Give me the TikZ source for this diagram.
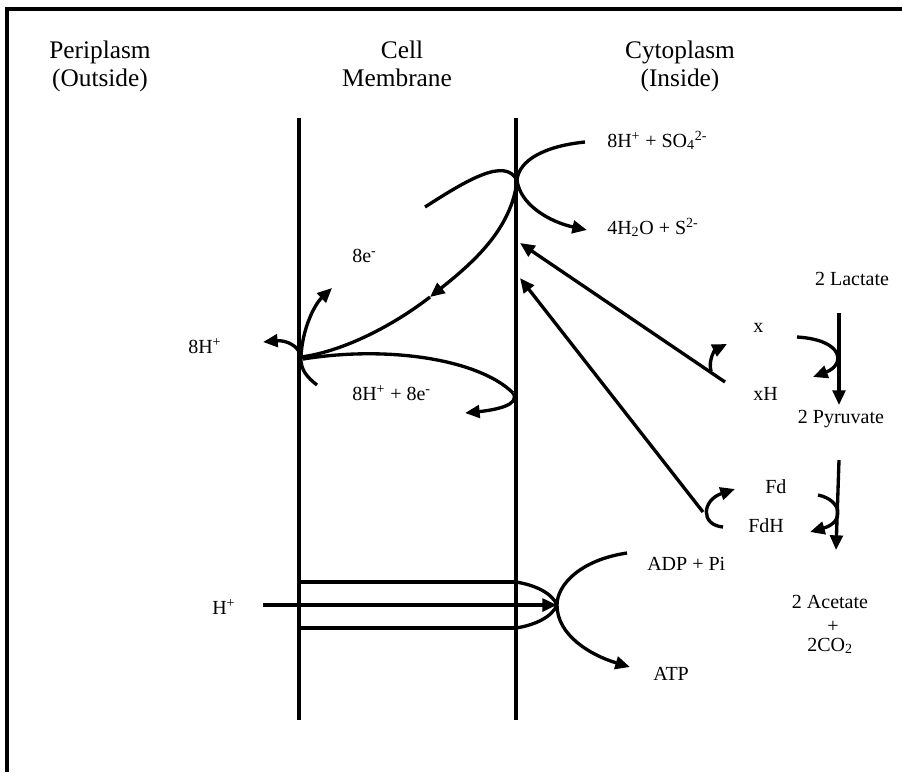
\documentclass[tikz,border=0pt]{standalone}
\usepackage{fontspec}
\setmainfont{Liberation Serif}
\usetikzlibrary{arrows.meta}
\begin{document}
\begin{tikzpicture}[x=0.75pt,y=-0.75pt,
  lbl/.style={inner sep=0pt,font=\fontsize{15}{18}\selectfont},
  hdr/.style={inner sep=0pt,font=\fontsize{19}{22}\selectfont,anchor=base},
  memb/.style={line width=3pt},
  crv/.style={line width=2.5pt},
  arr/.style={crv,-{Triangle[length=11pt,width=9.5pt]}},
  frame/.style={line width=3pt}]
\useasboundingbox (0,0) rectangle (902,772);
% frame
\draw[frame,line join=miter] (7,772) -- (7,8.5) -- (902,8.5);
% headings
\node[hdr] (peri1) at (100,58) {Periplasm};
\node[hdr] (peri2) at (100,86) {(Outside)};
\node[hdr] (cell1) at (402,58) {Cell};
\node[hdr] (cell2) at (397,86) {Membrane};
\node[hdr] (cyto1) at (680,58) {Cytoplasm};
\node[hdr] (cyto2) at (680,86) {(Inside)};
% membranes
\coordinate (mlt) at (299,118); \coordinate (mlb) at (299,720);
\coordinate (mrt) at (516,118); \coordinate (mrb) at (516,720);
\draw[memb] (mlt) -- (mlb);
\draw[memb] (mrt) -- (mrb);
% labels
\node[lbl,anchor=base west] (so4) at (607,147) {8H\textsuperscript{+} + SO\textsubscript{4}\textsuperscript{2-}};
\node[lbl,anchor=base west] (h2o) at (607,234) {4H\textsubscript{2}O + S\textsuperscript{2-}};
\node[lbl,anchor=base west] (e8) at (352,262) {8e\textsuperscript{-}};
\node[lbl,anchor=base west] (h8) at (188,353) {8H\textsuperscript{+}};
\node[lbl,anchor=base west] (h8e8) at (352,400) {8H\textsuperscript{+} + 8e\textsuperscript{-}};
\node[lbl,anchor=base] (lac) at (852,285) {2 Lactate};
\node[lbl,anchor=base west] (xx) at (753,332) {x};
\node[lbl,anchor=base west] (xh) at (753,400) {xH};
\node[lbl,anchor=base] (pyr) at (841,423) {2 Pyruvate};
\node[lbl,anchor=base west] (fd) at (765,493) {Fd};
\node[lbl,anchor=base west] (fdh) at (748,532) {FdH};
\node[lbl,anchor=base west] (adp) at (647,570) {ADP + Pi};
\node[lbl,anchor=base west] (hp) at (212,614) {H\textsuperscript{+}};
\node[lbl,anchor=base west] (atp) at (653,680) {ATP};
\node[lbl,anchor=base] (ace) at (830,608) {2 Acetate};
\node[lbl,anchor=base] (plus) at (833,632) {+};
\node[lbl,anchor=base] (co2) at (830,651) {2CO\textsubscript{2}};
% sulfate reduction junction on inner membrane
\coordinate (j1) at (517,180);
\coordinate (so4s) at (585,142);
\coordinate (h2oe) at (587,230);
\coordinate (la) at (425,207);
\coordinate (emid) at (430,297);
\coordinate (j2) at (301,357);
\draw[crv] (so4s) .. controls (545,146) and (519,160) .. (j1);
\draw[arr] (j1) .. controls (520,205) and (550,222) .. (h2oe);
\draw[crv] (la) .. controls (470,178) and (505,158) .. (j1);
\draw[arr] (j1) .. controls (512,230) and (470,265) .. (emid);
\draw[crv] (emid) .. controls (390,328) and (340,352) .. (j2);
% outer membrane junction
\coordinate (e8t) at (332,288);
\coordinate (h8t) at (263,342);
\coordinate (lowarm) at (317,385);
\coordinate (rturn) at (513,393);
\coordinate (h8e8t) at (465,413);
\draw[arr] (j2) .. controls (302,330) and (314,305) .. (e8t);
\draw[arr] (j2) .. controls (299,345) and (285,340) .. (h8t);
\draw[crv] (j2) .. controls (300,370) and (308,378) .. (lowarm);
\draw[crv] (303,359) .. controls (390,345) and (480,360) .. (rturn);
\draw[arr] (rturn) .. controls (521,405) and (495,410) .. (h8e8t);
% electron donors to membrane
\coordinate (xhs) at (725,382); \coordinate (xht) at (520,243);
\coordinate (fds) at (703,512); \coordinate (fdt) at (520,278);
\draw[arr] (xhs) -- (xht);
\draw[arr] (fds) -- (fdt);
\coordinate (xa1) at (711,371); \coordinate (xa2) at (727,344);
\draw[arr] (xa1) .. controls (708,360) and (715,350) .. (xa2);
\coordinate (fa1) at (723,527); \coordinate (fa2) at (735,489);
\draw[arr] (fa1) .. controls (700,525) and (702,500) .. (fa2);
% lactate oxidation
\coordinate (l1) at (839,313); \coordinate (l2) at (839,405);
\draw[arr] (l1) -- (l2);
\coordinate (xc1) at (797,337); \coordinate (xc2) at (813,377);
\draw[arr] (xc1) .. controls (845,340) and (845,365) .. (xc2);
\coordinate (p1) at (839,460); \coordinate (p2) at (836,550);
\draw[arr] (p1) -- (p2);
\coordinate (fc1) at (818,495); \coordinate (fc2) at (810,532);
\draw[arr] (fc1) .. controls (842,500) and (845,522) .. (fc2);
% ATP synthase
\coordinate (c1l) at (299,582); \coordinate (c1r) at (516,582);
\coordinate (c2l) at (299,628); \coordinate (c2r) at (516,628);
\coordinate (tip) at (557,605);
\coordinate (hs) at (263,605);
\draw[memb] (c1l) -- (c1r);
\draw[memb] (c2l) -- (c2r);
\draw[crv] (c1r) .. controls (535,585) and (552,593) .. (tip);
\draw[crv] (c2r) .. controls (535,625) and (552,617) .. (tip);
\draw[arr,line width=2.8pt] (hs) -- (tip);
\coordinate (adps) at (627,553); \coordinate (atpe) at (630,667);
\draw[crv] (adps) .. controls (580,560) and (557,585) .. (tip);
\draw[arr] (tip) .. controls (557,635) and (590,655) .. (atpe);
\end{tikzpicture}
\end{document}
